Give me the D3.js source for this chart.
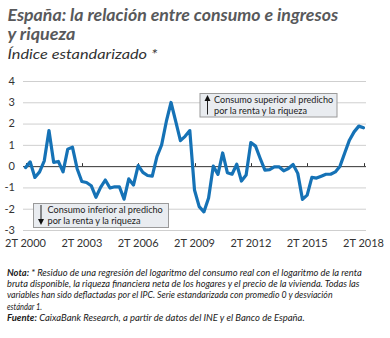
<!DOCTYPE html>
<html>
<head>
<meta charset="utf-8">
<script src="https://cdn.jsdelivr.net/npm/d3@7"></script>
<style>
  html, body { margin: 0; padding: 0; background: #fff; }
  svg { display: block; font-family: Lato, "Open Sans", sans-serif; }
</style>
</head>
<body>
<svg id="chart" width="390" height="338"></svg>
<script>
// Standardised residual of the consumption regression, quarterly, 2T 2000 – 2T 2018
const startYear = 2000;
const startQuarter = 2;
const values = [
  -0.07, 0.20, -0.53, -0.27, 0.25, 1.67, 0.18, 0.22, -0.27, 0.80, 0.89, -0.12,
  -0.72, -0.77, -0.92, -1.46, -1.00, -0.65, -1.03, -0.97, -0.97, -1.55, -0.60, -0.89,
  0.03, -0.29, -0.44, -0.47, 0.45, 1.00, 2.10, 2.99, 2.10, 1.20, 1.40, 1.67,
  -1.12, -1.90, -2.15, -1.50, 0.00, -0.39, 0.62, -0.31, -0.38, 0.09, -0.70, -0.42,
  1.11, 0.94, 0.36, -0.19, -0.16, -0.03, -0.03, -0.22, -0.11, 0.08, -0.34, -1.56,
  -1.36, -0.53, -0.56, -0.47, -0.38, -0.38, -0.27, 0.00, 0.62, 1.22, 1.61, 1.88,
  1.80
];
const quarters = values.map((_, i) => {
  const q = startQuarter - 1 + i;
  return `${(q % 4) + 1}T ${startYear + Math.floor(q / 4)}`;
});
const xTickLabels = ["2T 2000", "2T 2003", "2T 2006", "2T 2009", "2T 2012", "2T 2015", "2T 2018"];
const yTicks = [4, 3, 2, 1, 0, -1, -2, -3];

const titleLines = ["España: la relación entre consumo e ingresos", "y riqueza"];
const subtitle = "Índice estandarizado *";
const noteUpper = ["Consumo superior al predicho", "por la renta y la riqueza"];
const noteLower = ["Consumo inferior al predicho", "por la renta y la riqueza"];

const svg = d3.select("#chart");

const x = d3.scalePoint().domain(quarters).range([25.5, 363.5]);
const y = d3.scaleLinear().domain([-3, 4]).range([230, 81]);
const gridLeft = 23, gridRight = 366;

// Squeeze a text horizontally so that it spans exactly w pixels
function squeeze(textSel, px, py, w) {
  const natural = textSel.node().getComputedTextLength();
  textSel.attr("x", 0).attr("y", 0)
    .attr("transform", `translate(${px},${py}) scale(${w / natural},1)`);
}

// Title block
svg.append("text")
  .attr("font-size", 16.5).attr("font-weight", 700).attr("font-style", "italic")
  .attr("fill", "#58595b").text(titleLines[0]).call(squeeze, 7.5, 21, 331);
svg.append("text")
  .attr("font-size", 16.5).attr("font-weight", 700).attr("font-style", "italic")
  .attr("fill", "#58595b").text(titleLines[1]).call(squeeze, 7.5, 39.5, 68);
svg.append("text")
  .attr("font-size", 13.5).attr("font-style", "italic")
  .attr("fill", "#333").text(subtitle).call(squeeze, 7.5, 58.5, 150);

// Horizontal gridlines
svg.append("g").selectAll("line").data(yTicks.filter(d => d !== 0)).join("line")
  .attr("x1", gridLeft).attr("x2", gridRight)
  .attr("y1", d => y(d) + 0.5).attr("y2", d => y(d) + 0.5)
  .attr("stroke", "#cfcfcf").attr("stroke-width", 1);

// Y axis labels
svg.append("g").selectAll("text").data(yTicks).join("text")
  .attr("x", 15).attr("y", d => y(d)).attr("dy", "0.35em")
  .attr("text-anchor", "end").attr("font-size", 11).attr("fill", "#333")
  .text(d => d);

// Zero line with tick marks
svg.append("line").attr("x1", gridLeft).attr("x2", gridRight)
  .attr("y1", y(0) + 0.5).attr("y2", y(0) + 0.5)
  .attr("stroke", "#333").attr("stroke-width", 1);
svg.append("g").selectAll("line").data(xTickLabels).join("line")
  .attr("x1", d => Math.round(x(d)) + 0.5).attr("x2", d => Math.round(x(d)) + 0.5)
  .attr("y1", y(0) - 3).attr("y2", y(0))
  .attr("stroke", "#333").attr("stroke-width", 1);

// X axis labels
svg.append("g").selectAll("text").data(xTickLabels).join("text")
  .attr("x", d => x(d)).attr("y", 247)
  .attr("text-anchor", "middle").attr("font-size", 11).attr("fill", "#333")
  .text(d => d);

// Series line
const line = d3.line().x((d, i) => x(quarters[i])).y(d => y(d)).curve(d3.curveLinear);
svg.append("path").datum(values)
  .attr("d", line).attr("fill", "none")
  .attr("stroke", "#1572b6").attr("stroke-width", 3.2)
  .attr("stroke-linejoin", "round").attr("stroke-linecap", "round");

// Annotation boxes
function noteBox(bx, by, bw, bh, lines, widths, up) {
  const g = svg.append("g");
  g.append("rect").attr("x", bx + 0.5).attr("y", by + 0.5).attr("width", bw).attr("height", bh)
    .attr("fill", "#e9ecf0").attr("stroke", "#9a9a9a").attr("stroke-width", 1);
  const ax = bx + 8;
  if (up) {
    g.append("line").attr("x1", ax).attr("x2", ax).attr("y1", by + bh - 2).attr("y2", by + 7)
      .attr("stroke", "#222").attr("stroke-width", 1);
    g.append("path").attr("d", `M${ax - 3},${by + 8} L${ax},${by + 2} L${ax + 3},${by + 8} Z`).attr("fill", "#111");
  } else {
    g.append("line").attr("x1", ax).attr("x2", ax).attr("y1", by + 2).attr("y2", by + bh - 7)
      .attr("stroke", "#222").attr("stroke-width", 1);
    g.append("path").attr("d", `M${ax - 3},${by + bh - 8} L${ax},${by + bh - 2} L${ax + 3},${by + bh - 8} Z`).attr("fill", "#111");
  }
  lines.forEach((d, i) => {
    g.append("text").attr("font-size", 9.4).attr("fill", "#222").text(d)
      .call(squeeze, bx + 14.5, by + 10.3 + i * 10.6, widths[i]);
  });
}
noteBox(199.5, 93, 137, 23.5, noteUpper, [119, 93], true);
noteBox(33, 203, 135, 24, noteLower, [115, 93], false);

// Footnote
const notes = [
  ["Nota:", " * Residuo de una regresión del logaritmo del consumo real con el logaritmo de la renta", 355],
  ["", "bruta disponible, la riqueza financiera neta de los hogares y el precio de la vivienda. Todas las", 353],
  ["", "variables han sido deflactadas por el IPC. Serie estandarizada con promedio 0 y desviación", 326],
  ["", "estándar 1.", 35],
  ["Fuente:", " CaixaBank Research, a partir de datos del INE y el Banco de España.", 298]
];
notes.forEach((n, i) => {
  const t = svg.append("text")
    .attr("font-size", 10.3).attr("font-style", "italic").attr("fill", "#1a1a1a");
  if (n[0]) t.append("tspan").attr("font-weight", 700).text(n[0]);
  t.append("tspan").text(n[1]);
  t.call(squeeze, 7, 276 + i * 11.2, n[2]);
});
</script>
</body>
</html>
